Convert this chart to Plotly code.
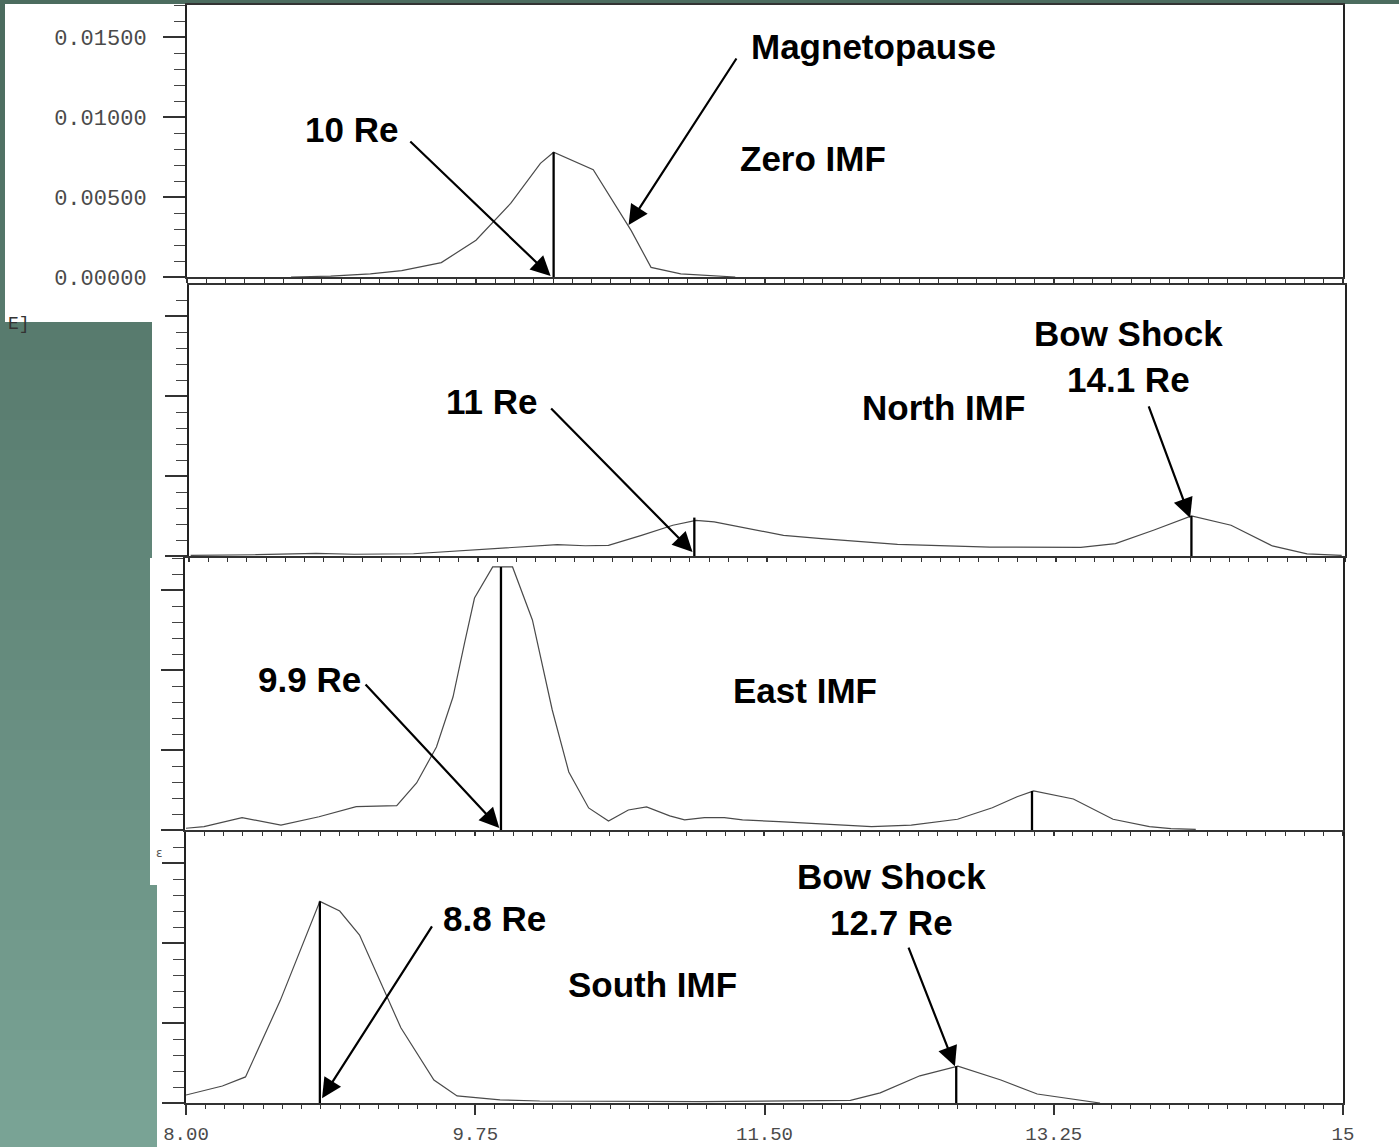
import plotly.graph_objects as go

W, H = 1399, 1147

# ---------------- data (x in Re, y in probability density) ----------------
zero_x = [8.63, 8.87, 9.11, 9.30, 9.54, 9.75, 9.96, 10.14, 10.22, 10.46, 10.69, 10.81, 10.99, 11.32]
zero_y = [0.0, 0.00006, 0.0002, 0.0004, 0.0009, 0.0023, 0.0046, 0.0071, 0.0078, 0.0067, 0.0029, 0.0006, 0.0002, 0.0]

north_x = [8.01, 8.41, 8.77, 9.00, 9.36, 9.70, 10.05, 10.23, 10.40, 10.54, 10.74, 10.93, 11.07, 11.18,
           11.60, 11.83, 12.29, 12.85, 13.40, 13.61, 13.84, 14.07, 14.31, 14.56, 14.77, 14.98]
north_y = [0.00004, 0.00008, 0.00017, 0.00011, 0.00014, 0.00036, 0.00063, 0.00071, 0.00064, 0.00067,
           0.00129, 0.00192, 0.00223, 0.00213, 0.00129, 0.00108, 0.00073, 0.00056, 0.00054, 0.00077,
           0.00161, 0.0025, 0.00192, 0.00063, 0.00013, 0.00004]

east_x = [8.006, 8.115, 8.345, 8.58, 8.81, 9.035, 9.28, 9.40, 9.52, 9.62, 9.69, 9.75, 9.86, 9.98,
          10.10, 10.22, 10.32, 10.44, 10.56, 10.68, 10.79, 10.93, 11.02, 11.14, 11.26, 11.37, 11.59,
          11.86, 12.15, 12.39, 12.67, 12.88, 13.03, 13.13, 13.37, 13.61, 13.83, 13.96, 14.11]
east_y = [0.00011, 0.00021, 0.00077, 0.00031, 0.00083, 0.00146, 0.00152, 0.00294, 0.00519, 0.00831,
          0.01169, 0.0145, 0.01644, 0.01644, 0.01313, 0.0075, 0.00363, 0.00138, 0.00056, 0.00125,
          0.00144, 0.00088, 0.00063, 0.00077, 0.00077, 0.00063, 0.00052, 0.00038, 0.00021, 0.00031,
          0.00067, 0.00139, 0.00208, 0.00244, 0.00194, 0.00067, 0.00021, 0.00008, 0.00004]

south_x = [8.0, 8.22, 8.36, 8.57, 8.81, 8.93, 9.05, 9.30, 9.50, 9.64, 9.90, 10.14, 11.11, 12.02,
           12.20, 12.44, 12.67, 12.93, 13.15, 13.53]
south_y = [0.0005, 0.00106, 0.00163, 0.0064, 0.0126, 0.012, 0.0105, 0.0047, 0.00144, 0.00044,
           0.00019, 0.000125, 0.00009, 0.00016, 0.00063, 0.0017, 0.0023, 0.00144, 0.00056, 0.0]

# vertical position markers (x, height) per panel
marker_x = [[10.22], [11.06, 14.07], [9.91, 13.12], [8.81, 12.66]]
marker_top = [[0.0078], [0.0024, 0.0025], [0.01644, 0.00244], [0.0126, 0.0023]]

x_tickvals = [8.0, 9.75, 11.5, 13.25, 15.0]
x_ticktext = ["8.00", "9.75", "11.50", "13.25", "15"]
y_tickvals = [0.0, 0.005, 0.01, 0.015]
y_ticktext = ["0.00000", "0.00500", "0.01000", "0.01500"]

# labels: (panel, text, x, y)
labels = [
    (1, "Magnetopause", 12.156, 0.01438),
    (1, "10 Re", 8.998, 0.00919),
    (1, "Zero IMF", 11.793, 0.00738),
    (2, "Bow Shock<br>14.1 Re", 13.687, 0.01244),
    (2, "11 Re", 9.833, 0.00963),
    (2, "North IMF", 12.567, 0.00931),
    (3, "9.9 Re", 8.750, 0.00938),
    (3, "East IMF", 11.745, 0.00875),
    (4, "Bow Shock<br>12.7 Re", 12.271, 0.01272),
    (4, "8.8 Re", 9.869, 0.01156),
    (4, "South IMF", 10.825, 0.00738),
]
# arrows: (panel, tail x, tail y, tip x, tip y)
arrows = [
    (1, 11.333, 0.01375, 10.674, 0.00325),
    (1, 9.343, 0.00856, 10.202, 0.00006),
    (2, 13.808, 0.00944, 14.062, 0.00238),
    (2, 10.184, 0.00931, 11.049, 0.00025),
    (3, 9.083, 0.00919, 9.900, 0.00013),
    (4, 9.494, 0.01113, 8.823, 0.0003),
    (4, 12.368, 0.00981, 12.652, 0.0023),
]

# ---------------- layout geometry (pixels) ----------------
panels_px = [  # left, right, top, bottom
    (187, 1343, 5, 277),
    (189, 1345, 285, 556),
    (185, 1343, 558, 830),
    (186, 1343, 832, 1103),
]
PX_PER_UNIT = 16000.0

fig = go.Figure()

curves = [(zero_x, zero_y), (north_x, north_y), (east_x, east_y), (south_x, south_y)]
for i, (xs, ys) in enumerate(curves):
    sfx = "" if i == 0 else str(i + 1)
    fig.add_trace(go.Scatter(x=xs, y=ys, mode="lines", line=dict(color="#4a4a4a", width=1.2),
                             xaxis="x" + sfx, yaxis="y" + sfx, showlegend=False, hoverinfo="skip"))
    for mx, mt in zip(marker_x[i], marker_top[i]):
        fig.add_trace(go.Scatter(x=[mx, mx], y=[0, mt], mode="lines", line=dict(color="black", width=2.3),
                                 xaxis="x" + sfx, yaxis="y" + sfx, showlegend=False, hoverinfo="skip"))

ytick_font = dict(family="Liberation Mono", size=22, color="#4a4a4a")
xtick_font = dict(family="Liberation Mono", size=19, color="#4a4a4a")
layout = dict(template="none", width=W, height=H, autosize=False,
              margin=dict(l=0, r=0, t=0, b=0, pad=0, autoexpand=False),
              paper_bgcolor="white", plot_bgcolor="white", showlegend=False,
              font=dict(family="Liberation Sans", color="black"))

for i, (l, r, t, b) in enumerate(panels_px):
    sfx = "" if i == 0 else str(i + 1)
    last = (i == 3)
    ytop = (b - t) / PX_PER_UNIT
    layout["xaxis" + sfx] = dict(
        domain=[l / W, r / W], range=[8, 15], anchor="y" + sfx, automargin=False,
        tickmode="array", tickvals=x_tickvals, ticktext=x_ticktext,
        showticklabels=last, ticks="outside", ticklen=10 if last else 4, tickwidth=1.5, tickcolor="#333",
        minor=dict(dtick=1.75 / 15, tick0=8, ticks="outside", ticklen=4, tickwidth=1.2, tickcolor="#333",
                   showgrid=False),
        showline=True, linecolor="#333", linewidth=2, mirror=True,
        showgrid=False, zeroline=False, tickfont=xtick_font, ticklabelstandoff=2, fixedrange=True)
    layout["yaxis" + sfx] = dict(
        domain=[1 - b / H, 1 - t / H], range=[0, ytop], anchor="x" + sfx, automargin=False,
        tickmode="array", tickvals=y_tickvals, ticktext=y_ticktext,
        showticklabels=(i == 0), ticks="outside", ticklen=22, tickwidth=1.5, tickcolor="#333",
        minor=dict(dtick=0.001, tick0=0, ticks="outside", ticklen=11, tickwidth=1.2, tickcolor="#444",
                   showgrid=False),
        showline=True, linecolor="#222", linewidth=2, mirror=True,
        showgrid=False, zeroline=False, tickfont=ytick_font, ticklabelstandoff=12, fixedrange=True)

fig.update_layout(**layout)

# ---------------- background (slide) ----------------
shapes = []
top_rgb = (74, 106, 93)
bot_rgb = (122, 164, 150)
band = 30
for y0 in range(0, H, band):
    f = (y0 + band / 2) / H
    c = tuple(int(round(a + (b_ - a) * f)) for a, b_ in zip(top_rgb, bot_rgb))
    shapes.append(dict(type="rect", xref="paper", yref="paper", layer="below",
                       x0=0, x1=157 / W, y0=1 - min(y0 + band, H) / H, y1=1 - y0 / H,
                       fillcolor="rgb(%d,%d,%d)" % c, line=dict(width=0)))
# top strip
shapes.append(dict(type="rect", xref="paper", yref="paper", layer="below",
                   x0=0, x1=1, y0=1 - 4 / H, y1=1, fillcolor="rgb(76,108,95)", line=dict(width=0)))
# white patches that cover the slide background
for (x0, x1, y0, y1) in [(5, 157, 4, 322), (152, 157, 322, 558), (150, 157, 558, 885)]:
    shapes.append(dict(type="rect", xref="paper", yref="paper", layer="below",
                       x0=x0 / W, x1=x1 / W, y0=1 - y1 / H, y1=1 - y0 / H,
                       fillcolor="white", line=dict(width=0)))
fig.update_layout(shapes=shapes)

# ---------------- annotations ----------------
ann = []
lab_font = dict(family="Liberation Sans", size=35, color="black")
for p, txt, x, y in labels:
    sfx = "" if p == 1 else str(p)
    ann.append(dict(text="<b>%s</b>" % txt, x=x, y=y, xref="x" + sfx, yref="y" + sfx,
                    showarrow=False, font=lab_font, align="center"))
for p, tx, ty, hx, hy in arrows:
    sfx = "" if p == 1 else str(p)
    ann.append(dict(text="", x=hx, y=hy, ax=tx, ay=ty, xref="x" + sfx, yref="y" + sfx,
                    axref="x" + sfx, ayref="y" + sfx, showarrow=True, arrowhead=2,
                    arrowsize=1.8, arrowwidth=2.2, arrowcolor="black", standoff=0))
ann.append(dict(text="E]", x=6 / W, y=1 - 312 / H, xref="paper", yref="paper", xanchor="left",
                showarrow=False, font=dict(family="Liberation Mono", size=18, color="#333")))
ann.append(dict(text="ε", x=154 / W, y=1 - 862 / H, xref="paper", yref="paper", xanchor="left",
                showarrow=False, font=dict(family="DejaVu Sans", size=12, color="#555")))
fig.update_layout(annotations=ann)

fig.write_html("out.html")
